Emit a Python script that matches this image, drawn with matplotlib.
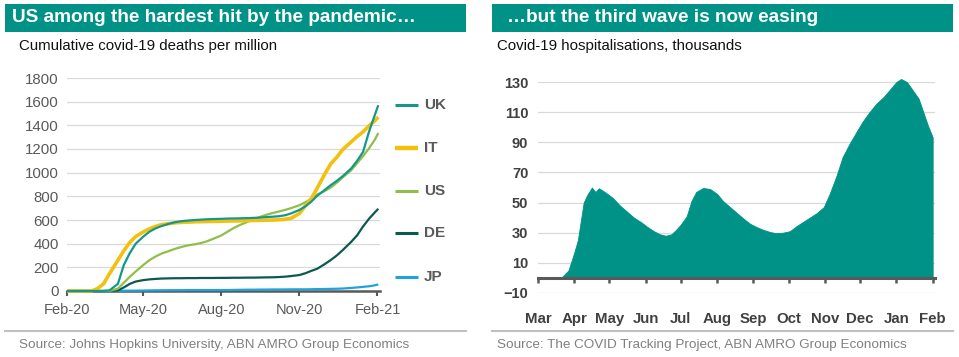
import matplotlib
matplotlib.use("Agg")
import matplotlib.pyplot as plt
import matplotlib.dates as mdates
from matplotlib.lines import Line2D
from matplotlib.patches import Rectangle
import pandas as pd

plt.rcParams['font.family'] = ['Liberation Sans', 'DejaVu Sans']

# ---- left chart: cumulative covid-19 deaths per million ----
death_dates = [
    "2020-02-01", "2020-02-08", "2020-02-15", "2020-02-22",
    "2020-03-01", "2020-03-08", "2020-03-15", "2020-03-22",
    "2020-04-01", "2020-04-08", "2020-04-15", "2020-04-22",
    "2020-05-01", "2020-05-08", "2020-05-15", "2020-05-22",
    "2020-06-01", "2020-06-08", "2020-06-15", "2020-06-22",
    "2020-07-01", "2020-07-08", "2020-07-15", "2020-07-22",
    "2020-08-01", "2020-08-08", "2020-08-15", "2020-08-22",
    "2020-09-01", "2020-09-08", "2020-09-15", "2020-09-22",
    "2020-10-01", "2020-10-08", "2020-10-15", "2020-10-22",
    "2020-11-01", "2020-11-08", "2020-11-15", "2020-11-22",
    "2020-12-01", "2020-12-08", "2020-12-15", "2020-12-22",
    "2021-01-01", "2021-01-08", "2021-01-15", "2021-01-22",
    "2021-01-29", "2021-02-02",
]
uk = [0, 0, 0, 0, 0, 0, 0, 5, 60, 220, 320, 400, 460, 500, 528, 548,
      570, 582, 590, 595, 600, 603, 606, 608, 610, 612, 613, 614,
      616, 618, 620, 624, 628, 632, 640, 655, 685, 715, 755, 805,
      855, 895, 930, 970, 1035, 1100, 1175, 1345, 1490, 1570]
it = [0, 0, 0, 0, 0, 20, 60, 145, 260, 340, 410, 460, 500, 525, 545, 560,
      570, 577, 580, 582, 585, 586, 587, 588, 590, 591, 592, 593,
      595, 596, 597, 598, 600, 602, 606, 614, 655, 720, 780, 870,
      990, 1075, 1130, 1195, 1260, 1305, 1345, 1395, 1440, 1470]
us = [0, 0, 0, 0, 0, 0, 0, 0, 20, 70, 120, 165, 220, 260, 290, 315,
      340, 358, 372, 385, 395, 405, 420, 440, 470, 500, 530, 555,
      585, 605, 625, 642, 660, 672, 685, 700, 725, 750, 780, 815,
      845, 875, 915, 960, 1020, 1080, 1140, 1205, 1280, 1335]
de = [0, 0, 0, 0, 0, 0, 0, 0, 5, 30, 60, 80, 92, 98, 102, 105,
      107, 108, 108, 109, 109, 110, 110, 110, 111, 111, 112, 112,
      113, 113, 114, 115, 116, 118, 121, 126, 135, 150, 170, 188,
      228, 262, 300, 345, 415, 470, 545, 610, 665, 695]
jp = [0, 0, 0, 0, 0, 0, 0, 0, 1, 2, 3, 3, 4, 5, 6, 6,
      7, 7, 7, 8, 8, 8, 8, 8, 8, 8, 9, 10,
      11, 11, 12, 12, 13, 13, 13, 14, 14, 14, 15, 16,
      17, 18, 19, 21, 26, 30, 35, 40, 48, 56]
countries = ["UK", "IT", "US", "DE", "JP"]
death_ticks = ["2020-02-01", "2020-05-01", "2020-08-01", "2020-11-01", "2021-02-01"]

# ---- right chart: covid-19 hospitalisations, thousands ----
hosp_dates = [
    "2020-03-01", "2020-03-20", "2020-03-22", "2020-03-27", "2020-04-01",
    "2020-04-04", "2020-04-06", "2020-04-09", "2020-04-12", "2020-04-16",
    "2020-04-19", "2020-04-22", "2020-04-28", "2020-05-04", "2020-05-10",
    "2020-05-16", "2020-05-22", "2020-05-28", "2020-06-03", "2020-06-08",
    "2020-06-13", "2020-06-18", "2020-06-23", "2020-06-27", "2020-07-01",
    "2020-07-06", "2020-07-10", "2020-07-14", "2020-07-20", "2020-07-26",
    "2020-08-01", "2020-08-06", "2020-08-12", "2020-08-18", "2020-08-24",
    "2020-08-29", "2020-09-03", "2020-09-09", "2020-09-15", "2020-09-20",
    "2020-09-26", "2020-10-02", "2020-10-08", "2020-10-13", "2020-10-19",
    "2020-10-25", "2020-10-31", "2020-11-05", "2020-11-11", "2020-11-16",
    "2020-11-22", "2020-11-28", "2020-12-03", "2020-12-09", "2020-12-15",
    "2020-12-21", "2020-12-26", "2021-01-01", "2021-01-05", "2021-01-10",
    "2021-01-15", "2021-01-20", "2021-01-24", "2021-01-28", "2021-02-01",
]
hosp = [0, 0, 1, 5, 17, 25, 35, 50, 55, 60, 57, 59.5, 56.5, 53, 48,
        44, 40, 37, 33.5, 31, 29, 28, 29, 32, 35.5, 41, 51, 57, 59.7, 59,
        55.7, 51, 47, 43, 39, 36, 34, 32, 30.5, 29.7, 30, 31, 34.5, 37, 40,
        43, 47, 55.7, 68, 80, 89, 97, 103.5, 110, 115.7, 120, 124.5, 130, 132, 130,
        124.5, 119, 110, 101, 93.4]
hosp_ticks = pd.date_range("2020-03-01", "2021-02-01", freq="MS")

teal = "#009286"
grey_txt = "#595959"
grid_col = "#D9D9D9"
axis_col = "#595959"
line_cols = {"UK": "#15978A", "IT": "#F2C10F", "US": "#8FBE4A", "DE": "#0B5A50", "JP": "#1FA3DA"}
line_w = {"UK": 1.6, "IT": 2.6, "US": 1.6, "DE": 1.6, "JP": 1.6}

W, H = 959, 357
fig = plt.figure(figsize=(W / 100, H / 100), dpi=100)


def fx(x):
    return x / W


def fy(y):
    return 1 - y / H


# title bars, subtitles, separators, sources
panels = [
    (5, 466, 12, 19, "US among the hardest hit by the pandemic…",
     "Cumulative covid-19 deaths per million",
     "Source: Johns Hopkins University, ABN AMRO Group Economics"),
    (492, 953, 507, 497, "…but the third wave is now easing",
     "Covid-19 hospitalisations, thousands",
     "Source: The COVID Tracking Project, ABN AMRO Group Economics"),
]
for x0, x1, tx, sx, title, sub, src in panels:
    fig.add_artist(Rectangle((fx(x0), fy(32)), fx(x1) - fx(x0), 28 / H,
                             transform=fig.transFigure, color=teal, lw=0))
    fig.text(fx(tx), fy(18), title, color="white", fontsize=13.7,
             fontweight="bold", va="center", ha="left")
    fig.text(fx(sx), fy(46), sub, color="#111111", fontsize=10.8,
             va="center", ha="left")
    fig.add_artist(Line2D([fx(x0), fx(x1)], [fy(331), fy(331)],
                          transform=fig.transFigure, color="#C0C0C0", lw=1.5))
    fig.text(fx(sx), fy(345), src, color="#808080", fontsize=9.7,
             va="center", ha="left")

# left chart
ax1 = fig.add_axes([fx(67), fy(291), fx(380) - fx(67), (291 - 78) / H])
dd = pd.to_datetime(death_dates)
series = {"UK": uk, "IT": it, "US": us, "DE": de, "JP": jp}
for name in ["JP", "DE", "US", "IT", "UK"]:
    ax1.plot(dd, series[name], color=line_cols[name], lw=line_w[name],
             solid_capstyle="butt", zorder=3, clip_on=False)
ax1.set_ylim(0, 1800)
ax1.set_yticks(range(0, 1801, 200))
ax1.set_xlim(pd.Timestamp("2020-02-01"), pd.Timestamp("2021-02-04"))
ax1.set_xticks(pd.to_datetime(death_ticks))
ax1.xaxis.set_major_formatter(mdates.DateFormatter("%b-%y"))
ax1.grid(axis="y", color=grid_col, lw=0.9)
ax1.set_axisbelow(True)
for s in ["top", "right", "left"]:
    ax1.spines[s].set_visible(False)
ax1.spines["bottom"].set_color(axis_col)
ax1.spines["bottom"].set_linewidth(1.8)
ax1.spines["bottom"].set_zorder(2)
ax1.tick_params(axis="y", length=0, labelsize=10.8, labelcolor=grey_txt, pad=6)
ax1.tick_params(axis="x", direction="out", length=3.5, width=1.5, color=axis_col,
                labelsize=10.5, labelcolor=grey_txt, pad=5)

# left legend
leg_y = [105, 148, 191, 233, 277]
for name, y in zip(countries, leg_y):
    fig.add_artist(Line2D([fx(395), fx(418)], [fy(y), fy(y)], transform=fig.transFigure,
                          color=line_cols[name], lw=line_w[name] + 0.6,
                          solid_capstyle="butt"))
    fig.text(fx(424), fy(y), name, color=grey_txt, fontsize=11,
             fontweight="bold", va="center", ha="left")

# right chart
ax2 = fig.add_axes([fx(538), fy(293), fx(935) - fx(538), (293 - 82) / H])
hd = pd.to_datetime(hosp_dates)
ax2.fill_between(hd, 0, hosp, color=teal, lw=0.6, edgecolor=teal, zorder=2,
                 clip_on=False)
ax2.set_ylim(-10, 130)
ax2.set_yticks(range(-10, 131, 20))
ax2.set_xlim(pd.Timestamp("2020-03-01"), pd.Timestamp("2021-02-03"))
ax2.set_xticks(hosp_ticks)
ax2.xaxis.set_major_formatter(mdates.DateFormatter("%b"))
ax2.grid(axis="y", color=grid_col, lw=0.9)
ax2.set_axisbelow(True)
for s in ["top", "right", "left"]:
    ax2.spines[s].set_visible(False)
ax2.spines["bottom"].set_position(("data", 0))
ax2.spines["bottom"].set_color(axis_col)
ax2.spines["bottom"].set_linewidth(2.2)
ax2.spines["bottom"].set_zorder(3)
ax2.tick_params(axis="y", length=0, labelsize=10.5, labelcolor="#404040", pad=7)
ax2.tick_params(axis="x", direction="out", length=3.5, width=1.8, color=axis_col,
                labelsize=10.8, labelcolor="#404040", pad=21)
for lbl in ax2.get_yticklabels() + ax2.get_xticklabels():
    lbl.set_fontweight("bold")

fig.savefig("out.png", dpi=100)
